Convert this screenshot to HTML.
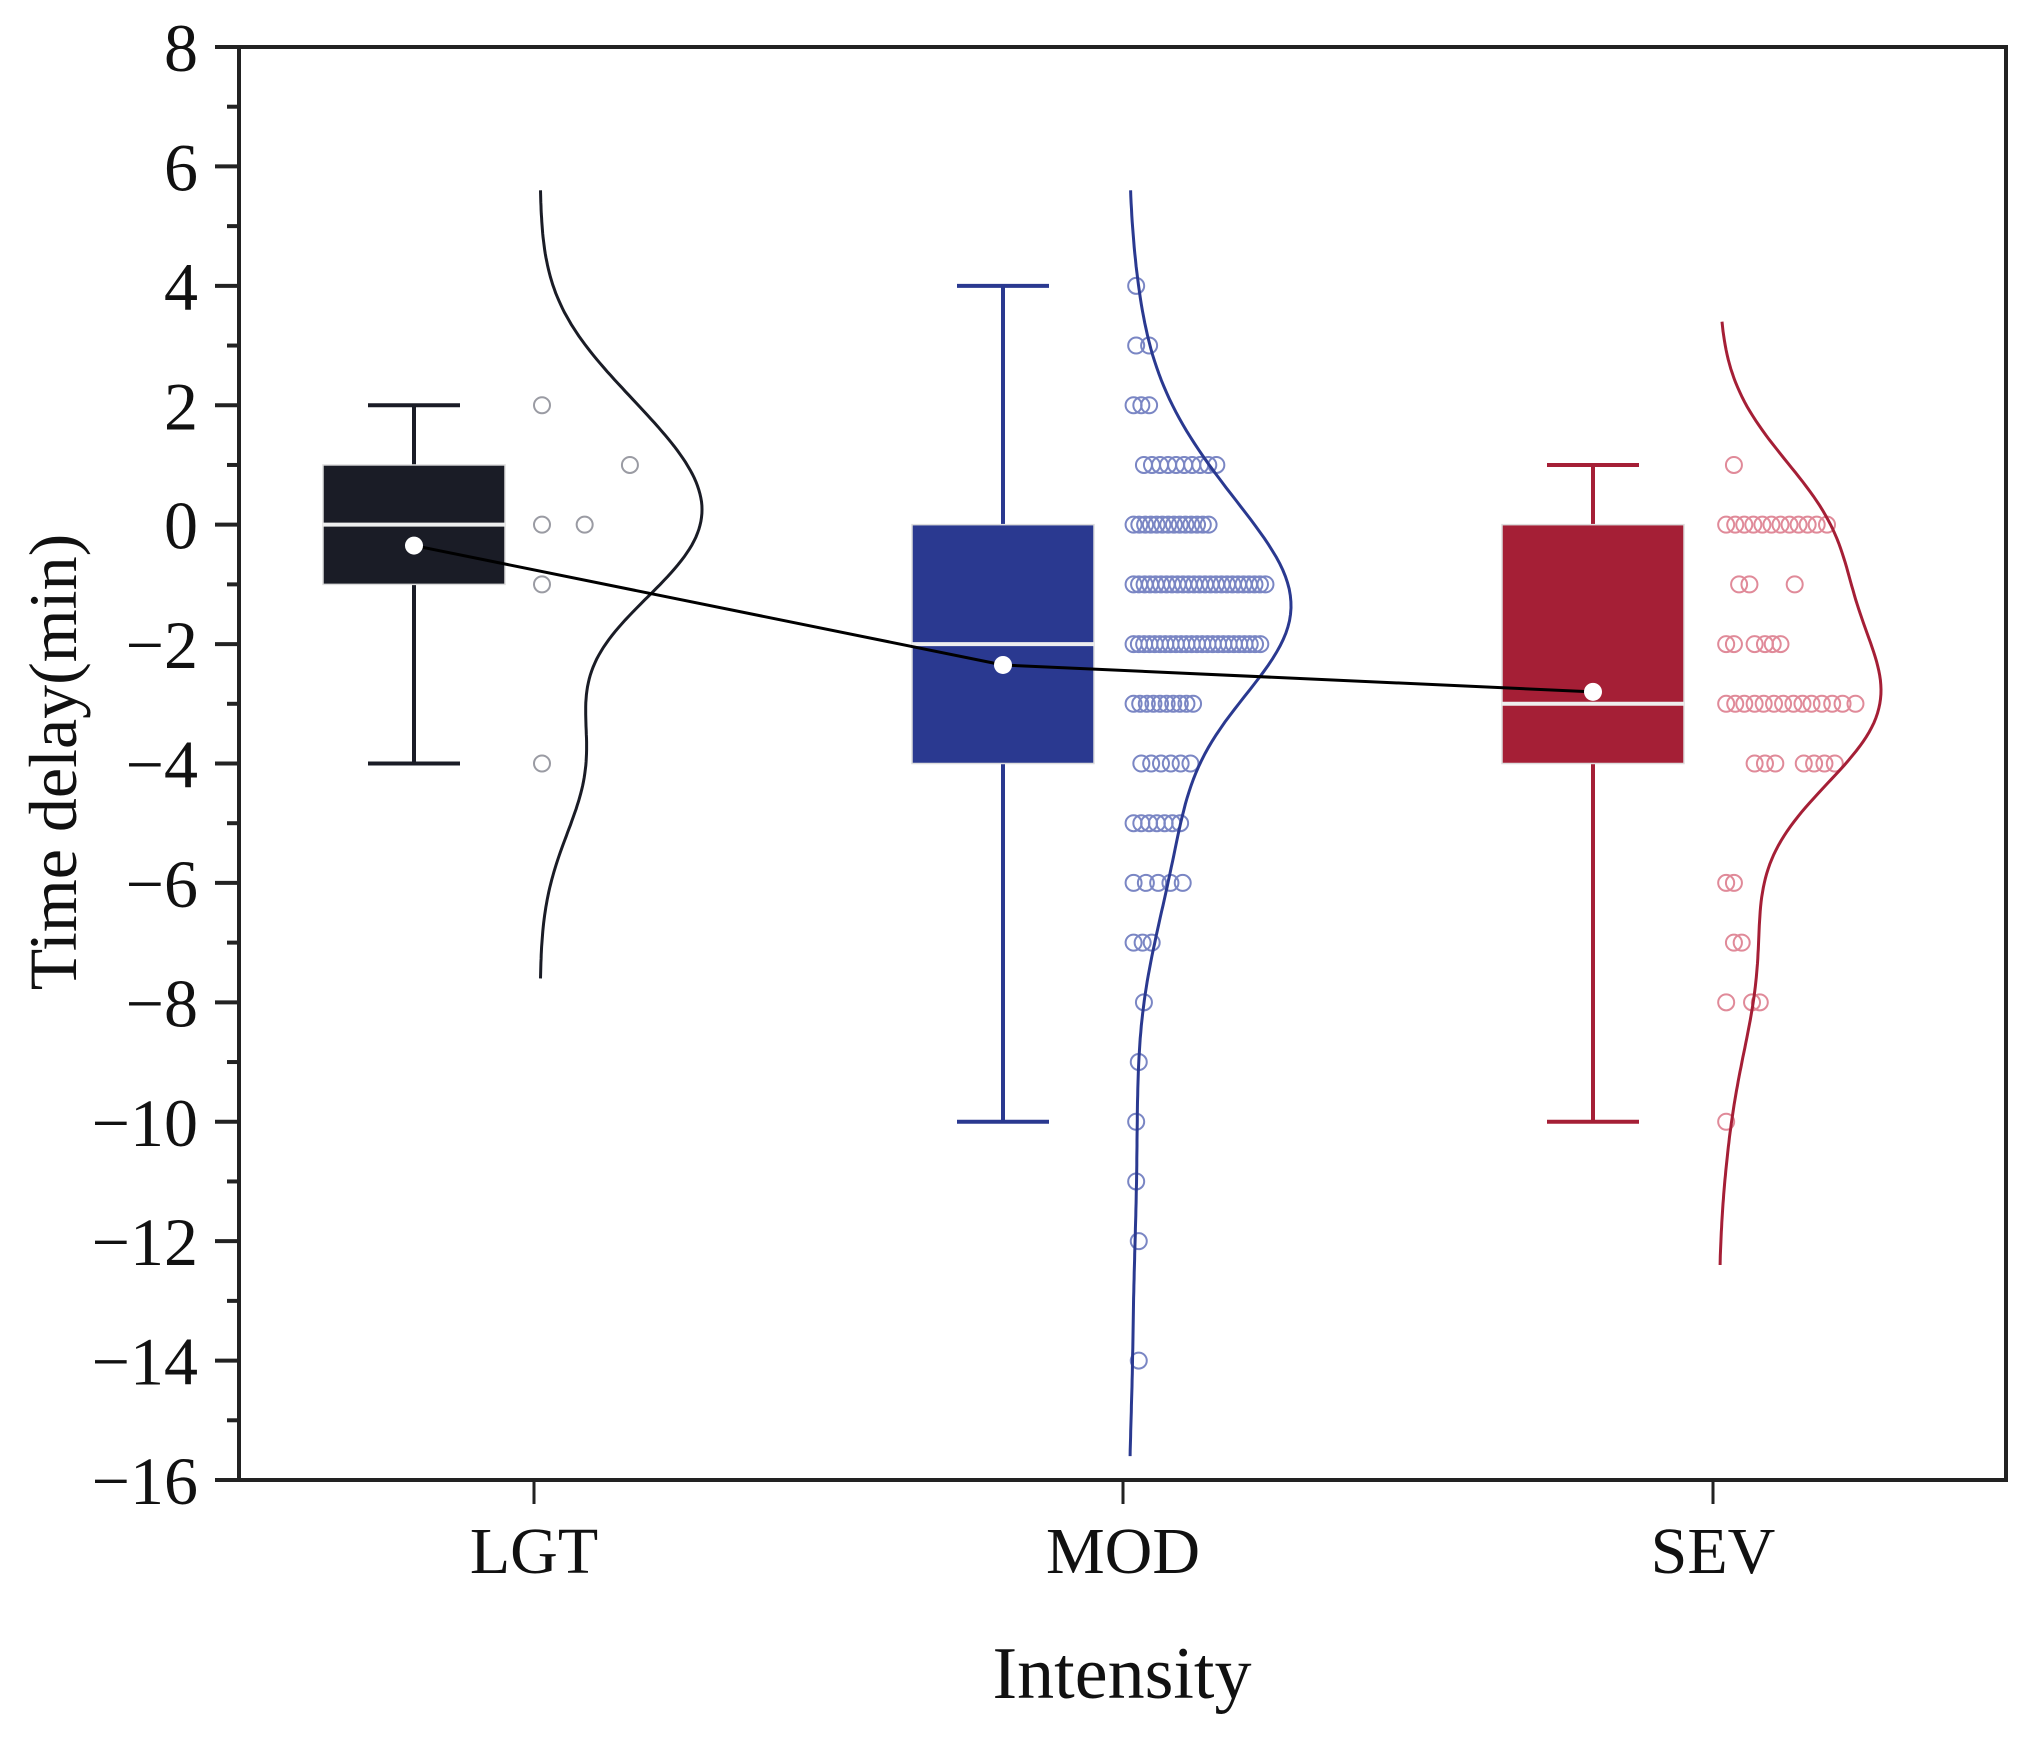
<!DOCTYPE html>
<html><head><meta charset="utf-8"><style>
html,body{margin:0;padding:0;background:#fff;}
svg{display:block;font-family:"Liberation Serif",serif;}
</style></head><body>
<svg id="chart" width="2027" height="1738" viewBox="0 0 2027 1738"></svg>
<script>
const categories=["LGT","MOD","SEV"];
const colors=["#1a1c26","#2a3990","#a51f36"];
const pointColors=["#9a9ba3","#7a86c4","#e08a99"];
const whiskerHigh=[2,4,1];
const whiskerLow=[-4,-10,-10];
const q3=[1,0,0];
const q1=[-1,-4,-4];
const medians=[0,-2,-3];
const means=[-0.35,-2.35,-2.8];
const yTicks=[8,6,4,2,0,-2,-4,-6,-8,-10,-12,-14,-16];
// scatter: [value, jitter]
const lgtPoints=[[2,0],[1,68],[0,0],[0,33],[-1,0],[-4,0]];
const modGroups=[[4,1,4,4],[3,2,4,14],[2,3,2,14],[1,10,10,66],[0,14,2,60],[-1,25,2,104],[-2,25,2,100],[-3,10,2,48],[-4,6,8,46],[-5,7,2,38],[-6,5,2,40],[-7,3,2,16],[-8,1,10,10],[-9,1,6,6],[-10,1,4,4],[-11,1,4,4],[-12,1,6,6],[-14,1,6,6]];
const sevPoints=[[1,10],[0,4],[0,11],[0,18],[0,25],[0,32],[0,39],[0,46],[0,53],[0,60],[0,67],[0,74],[0,82],[-1,14],[-1,22],[-1,57],[-2,4],[-2,10],[-2,26],[-2,34],[-2,40],[-2,46],[-3,4],[-3,11],[-3,18],[-3,26],[-3,33],[-3,41],[-3,48],[-3,56],[-3,63],[-3,70],[-3,78],[-3,86],[-3,94],[-3,104],[-4,26],[-4,34],[-4,42],[-4,64],[-4,72],[-4,80],[-4,88],[-6,4],[-6,10],[-7,10],[-7,16],[-8,4],[-8,24],[-8,30],[-10,4]];
const bandwidth=[1.2,1.15,1.25];
const kdeExtend=[3.6,1.6,2.4];

const NS="http://www.w3.org/2000/svg";
const svg=document.getElementById("chart");
const L=239,R=2006,T=47,B=1480;
const catX=[534,1123,1713];
const S=1.293;
function y(v){return T+(8-v)*(B-T)/24;}
function mk(tag,attrs,parent){const e=document.createElementNS(NS,tag);for(const k in attrs)e.setAttribute(k,attrs[k]);(parent||svg).appendChild(e);return e;}

const frame=mk("rect",{x:L,y:T,width:R-L,height:B-T,fill:"none",stroke:"#222",'stroke-width':4});



yTicks.forEach(v=>{
  const t=mk("line",{x1:L-24,x2:L,y1:y(v),y2:y(v),stroke:"#222",'stroke-width':4});
  
  
  const m=mk("line",{x1:L-12,x2:L,y1:y(v-1),y2:y(v-1),stroke:"#222",'stroke-width':4});
  if(v===-16)m.remove();
  
  
  const lb=mk("text",{x:198,y:y(v)+24,'text-anchor':'end','font-size':68,fill:"#111"});
  lb.textContent=v<0?"\u2212"+Math.abs(v):String(v);
  
  
});
const yt=mk("text",{x:0,y:0,'text-anchor':'middle','font-size':68,fill:"#111",transform:"translate(76,762) rotate(-90)"});
yt.textContent="Time delay(min)";



categories.forEach((c,i)=>{
  const t=mk("line",{x1:catX[i],x2:catX[i],y1:B,y2:B+24,stroke:"#222",'stroke-width':3});
  
  
  const lb=mk("text",{x:catX[i],y:1573,'text-anchor':'middle','font-size':66,fill:"#111"});
  lb.textContent=c;
  
  
});
const xt=mk("text",{x:1122,y:1698,'text-anchor':'middle','font-size':74,fill:"#111"});
xt.textContent="Intensity";



const modPoints=[];
modGroups.forEach(g=>{const [v,n,a,b]=g;for(let k=0;k<n;k++)modPoints.push([v,n>1?a+(b-a)*k/(n-1):a]);});
const allPoints=[lgtPoints,modPoints,sevPoints];

categories.forEach((c,i)=>{
  const col=colors[i];
  const bc=catX[i]-120;
  const g=mk("g",{});
  
  
  const w1=mk("line",{x1:bc,x2:bc,y1:y(whiskerHigh[i]),y2:y(whiskerLow[i]),stroke:col,'stroke-width':4},g);
  
  
  [whiskerHigh[i],whiskerLow[i]].forEach(v=>{
    const cap=mk("line",{x1:bc-46,x2:bc+46,y1:y(v),y2:y(v),stroke:col,'stroke-width':4},g);
    
    
  });
  const box=mk("rect",{x:bc-91,y:y(q3[i]),width:182,height:y(q1[i])-y(q3[i]),fill:col,stroke:"#ddd",'stroke-width':1.5},g);
  
  
  const md=mk("line",{x1:bc-91,x2:bc+91,y1:y(medians[i]),y2:y(medians[i]),stroke:"#eee",'stroke-width':4},g);
  
  
  allPoints[i].forEach(p=>{
    const cc=mk("circle",{cx:catX[i]+8+p[1]*S,cy:y(p[0]),r:8,fill:"none",stroke:pointColors[i],'stroke-width':2},g);
    
    
  });
  const vals=allPoints[i].map(p=>p[0]);
  const bw=bandwidth[i];
  const lo=Math.min(...vals)-kdeExtend[i], hi=Math.max(...vals)+kdeExtend[i];
  const dens=[];
  for(let k=0;k<=200;k++){const v=lo+(hi-lo)*k/200;let d=0;vals.forEach(x=>{d+=Math.exp(-0.5*((v-x)/bw)**2);});dens.push([v,d]);}
  const mx=Math.max(...dens.map(d=>d[1]));
  const base=catX[i]+6;
  const pts=dens.map(d=>(base+d[1]/mx*162).toFixed(1)+","+y(d[0]).toFixed(1)).join(" ");
  const kd=mk("polyline",{points:pts,fill:"none",stroke:col,'stroke-width':3},g);
  
  
});
const mp=means.map((m,i)=>(catX[i]-120)+","+y(m)).join(" ");
const ml=mk("polyline",{points:mp,fill:"none",stroke:"#000",'stroke-width':3});


means.forEach((m,i)=>{
  const d=mk("circle",{cx:catX[i]-120,cy:y(m),r:9,fill:"#fff"});
  
  
});
</script>
</body></html>
